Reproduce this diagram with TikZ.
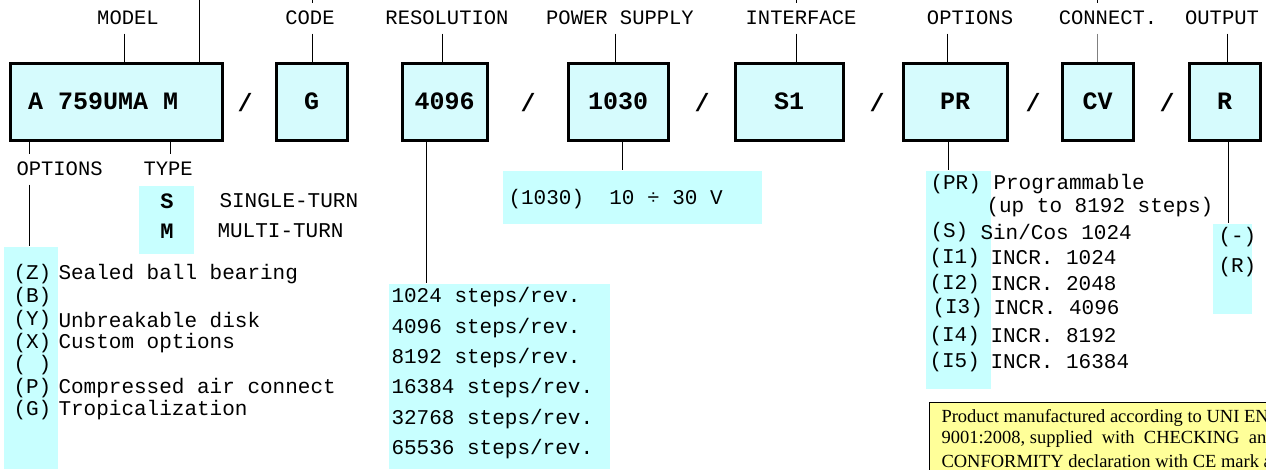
\documentclass[tikz,border=0pt]{standalone}
\usepackage{fontspec}
\setmainfont{Liberation Serif}
\setmonofont{Liberation Mono}
\usetikzlibrary{positioning}

\definecolor{boxcyan}{RGB}{214,251,253}
\definecolor{colcyan}{RGB}{200,255,255}
\definecolor{noteyellow}{RGB}{255,255,153}
\newcommand{\hdrfont}{\ttfamily\fontsize{20.5}{24}\selectfont}
\newcommand{\codefont}{\ttfamily\bfseries\fontsize{25}{28}\selectfont}
\newcommand{\listfont}{\ttfamily\fontsize{21}{24}\selectfont}

\begin{document}
\begin{tikzpicture}[x=1pt,y=-1pt,line width=1pt,
  code box/.style={draw,line width=3pt,fill=boxcyan,inner sep=0pt,minimum height=77pt,font=\codefont},
  slash/.style={inner sep=0pt,font=\codefont},
  hdr/.style={inner sep=0pt,minimum height=30pt,font=\hdrfont},
  col/.style={fill=colcyan,inner sep=0pt,anchor=north west},
  item/.style={anchor=west,inner sep=0pt,font=\listfont},
  key/.style={inner sep=0pt,font=\ttfamily\bfseries\fontsize{22}{24}\selectfont},
  note line/.style={anchor=west,inner sep=0pt,font=\fontsize{18.5}{20}\selectfont}]
  \useasboundingbox (0,0) rectangle (1266,469);
  \clip (0,0) rectangle (1266,469);

  % code boxes
  \node[code box,minimum width=212pt,text width=176pt,inner xsep=18pt,align=left] (model) at (116,101.5) {A\hspace{15pt}759UMA\hspace{15pt}M};
  \node[code box,minimum width=71pt] (code) at (311.5,101.5) {G};
  \node[code box,minimum width=85pt] (res) at (444.5,101.5) {4096};
  \node[code box,minimum width=100pt] (pwr) at (618,101.5) {1030};
  \node[code box,minimum width=108pt] (intf) at (789,101.5) {S1};
  \node[code box,minimum width=104pt] (opt) at (955,101.5) {PR};
  \node[code box,minimum width=71pt] (conn) at (1097.5,101.5) {CV};
  \node[code box,minimum width=71pt] (out) at (1224.5,101.5) {R};

  \node[slash] (s1) at (245,103) {/};
  \node[slash] (s2) at (528,103) {/};
  \node[slash] (s3) at (702,103) {/};
  \node[slash] (s4) at (877,103) {/};
  \node[slash] (s5) at (1033,103) {/};
  \node[slash] (s6) at (1167,103) {/};

  % headers
  \node[hdr] (hmodel) at (128,18) {MODEL};
  \node[hdr] (hcode) at (310,18) {CODE};
  \node[hdr] (hres) at (447,18) {RESOLUTION};
  \node[hdr] (hpwr) at (620,18) {POWER SUPPLY};
  \node[hdr] (hintf) at (801,18) {INTERFACE};
  \node[hdr] (hopt) at (970,18) {OPTIONS};
  \node[hdr] (hconn) at (1108,18) {CONNECT.};
  \node[hdr] (hout) at (1222,18) {OUTPUT};

  \coordinate (tmodel) at (199,0);
  \coordinate (tcode) at (312,0);
  \coordinate (tintf) at (796,0);
  \coordinate (tconn) at (1097,0);

  \draw (tmodel) -- (model.north -| tmodel);
  \draw (tcode) -- (hcode.north -| tcode);
  \draw (tintf) -- (hintf.north -| tintf);
  \draw (tconn) -- (hconn.north -| tconn);

  \draw (hmodel.south -| 124,0) -- (model.north -| 124,0);
  \draw (hcode.south -| tcode) -- (code.north -| tcode);
  \draw (hres.south -| 442,0) -- (res.north -| 442,0);
  \draw (hpwr.south -| 615,0) -- (pwr.north -| 615,0);
  \draw (hintf.south -| tintf) -- (intf.north -| tintf);
  \draw (hopt.south -| 947,0) -- (opt.north -| 947,0);
  \draw[gray] (hconn.south -| tconn) -- (conn.north -| tconn);
  \draw (hout.south -| 1227,0) -- (out.north -| 1227,0);

  % model: options and type
  \node[hdr,anchor=west] (hmopt) at (16,169) {OPTIONS};
  \node[hdr,anchor=west] (htype) at (143,169) {TYPE};
  \node[col,minimum width=54pt,minimum height=222pt] (optcol) at (3,246) {};
  \node[col,minimum width=55pt,minimum height=68pt] (typecol) at (138,185) {};
  \draw (model.south -| 29,0) -- (hmopt.north -| 29,0);
  \draw (hmopt.south -| 29,0) -- (optcol.north -| 29,0);
  \draw (model.south -| 170,0) -- (htype.north -| 170,0);

  \node[key] (ks) at (167,201) {S};
  \node[key] (km) at (167,231) {M};
  \node[item] (single) at (219,201) {SINGLE-TURN};
  \node[item] (multi) at (217,231) {MULTI-TURN};

  \node[item] (oz) at (13,274) {(Z)};
  \node[item] (ob) at (13,297) {(B)};
  \node[item] (oy) at (13,320) {(Y)};
  \node[item] (ox) at (13,343) {(X)};
  \node[item] (oe) at (13,365) {( )};
  \node[item] (op) at (13,388) {(P)};
  \node[item] (og) at (13,410) {(G)};
  \node[item] (dz) at (58,274) {Sealed ball bearing};
  \node[item] (dy) at (58,320) {Unbreakable disk};
  \node[item] (dx) at (58,343) {Custom options};
  \node[item] (dp) at (58,388) {Compressed air connect};
  \node[item] (dg) at (58,410) {Tropicalization};

  % resolution
  \node[col,minimum width=221pt,minimum height=185pt] (rescol) at (388,283) {};
  \draw (res.south -| 426,0) -- (rescol.north -| 426,0);
  \node[item] (r1) at (391,297) {1024 steps/rev.};
  \node[item] (r2) at (391,328) {4096 steps/rev.};
  \node[item] (r3) at (391,358) {8192 steps/rev.};
  \node[item] (r4) at (391,388) {16384 steps/rev.};
  \node[item] (r5) at (391,419) {32768 steps/rev.};
  \node[item] (r6) at (391,449) {65536 steps/rev.};

  % power supply
  \node[col,minimum width=259pt,minimum height=53pt] (pwrcol) at (502,170) {};
  \draw (pwr.south -| 622,0) -- (pwrcol.north -| 622,0);
  \node[item] (p1) at (508,199) {(1030)\ \ 10 ÷ 30 V};

  % options
  \node[col,minimum width=65pt,minimum height=218pt] (prcol) at (925,170) {};
  \draw (opt.south -| 948,0) -- (prcol.north -| 948,0);
  \node[item] (cpr) at (930,184) {(PR)};
  \node[item] (dpr) at (993,184) {Programmable};
  \node[item] (dpr2) at (986,207) {(up to 8192 steps)};
  \node[item] (cs) at (930,232) {(S)};
  \node[item] (ds) at (980,232) {Sin/Cos 1024};
  \node[item] (ci1) at (929,258) {(I1)};
  \node[item] (di1) at (990,258) {INCR. 1024};
  \node[item] (ci2) at (929,284) {(I2)};
  \node[item] (di2) at (990,284) {INCR. 2048};
  \node[item] (ci3) at (932,308) {(I3)};
  \node[item] (di3) at (993,308) {INCR. 4096};
  \node[item] (ci4) at (929,336) {(I4)};
  \node[item] (di4) at (990,336) {INCR. 8192};
  \node[item] (ci5) at (929,362) {(I5)};
  \node[item] (di5) at (990,362) {INCR. 16384};

  % output
  \node[col,minimum width=39pt,minimum height=90pt] (outcol) at (1212,223) {};
  \draw (out.south -| 1228,0) -- (outcol.north -| 1228,0);
  \node[item] (cdash) at (1218,237) {(-)};
  \node[item] (cr) at (1218,267) {(R)};

  % note
  \node[draw,line width=1pt,fill=noteyellow,anchor=north west,minimum width=400pt,minimum height=100pt] (note) at (929,402) {};
  \node[note line] (n1) at (941,418) {Product manufactured according to UNI EN ISO};
  \node[note line] (n2) at (941,439) {9001:2008, supplied\ \ with\ \ CHECKING\ \ and};
  \node[note line] (n3) at (941,461) {CONFORMITY declaration with CE mark and};
\end{tikzpicture}
\end{document}
